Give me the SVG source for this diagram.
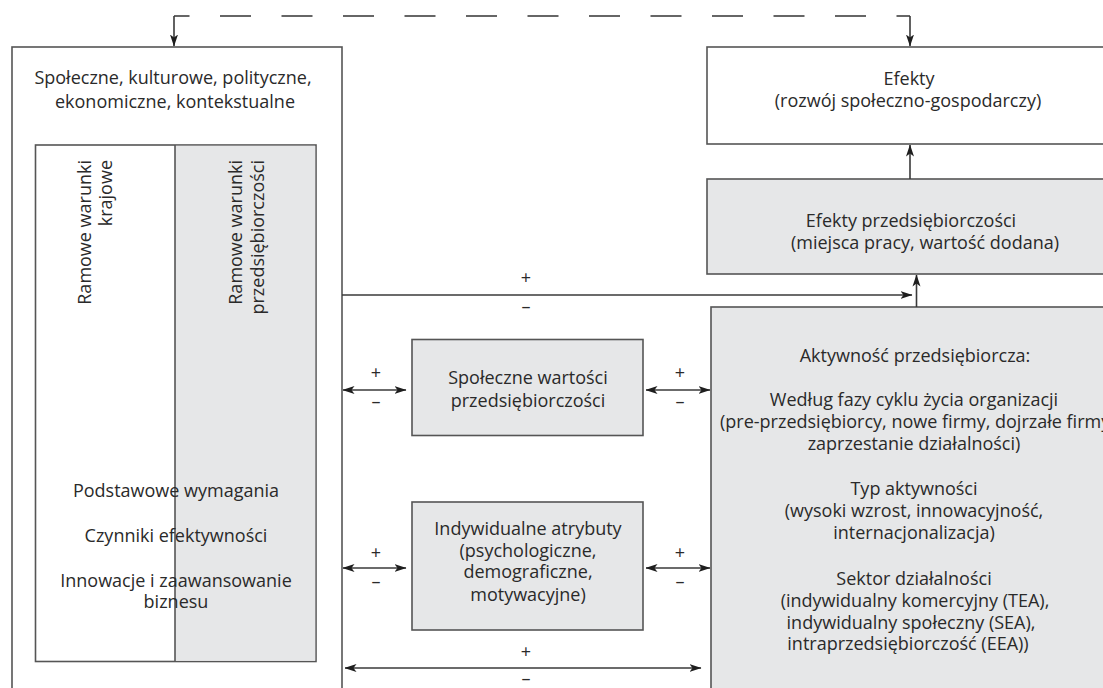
<svg xmlns="http://www.w3.org/2000/svg" width="1103" height="688" viewBox="0 0 1103 688">
<defs>
<marker id="ah" viewBox="0 0 12 8" refX="11.5" refY="4" markerWidth="12" markerHeight="8.5" markerUnits="userSpaceOnUse" orient="auto-start-reverse">
<path d="M0,0 L12,4 L0,8 L3,4 Z" fill="#1e1e1e"/>
</marker>
<style>
.box{stroke:#555;stroke-width:1.6}
.w{fill:#fff}
.g{fill:#e6e7e8}
text{font-family:"Open Sans","Noto Sans","Liberation Sans",sans-serif;font-size:18px;fill:#2a2a2a;text-anchor:middle}
.ln{fill:none;stroke:#3a3a3a;stroke-width:1.6}
.ds{fill:none;stroke:#666;stroke-width:1.8;stroke-dasharray:31 30.5;stroke-dashoffset:15.5}
</style>
</defs>
<rect width="1103" height="688" fill="#fff"/>

<g id="kontekst">
<rect class="box w" x="12" y="47" width="330" height="700"/>
<text x="173" y="84">Społeczne, kulturowe, polityczne,</text>
<text x="175" y="108">ekonomiczne, kontekstualne</text>
</g>

<g id="ramowe">
<rect class="box w" x="35.5" y="145" width="280.5" height="516.5"/>
<rect class="g" x="175" y="145.8" width="140.2" height="515"/>
<line class="box" x1="175" y1="145" x2="175" y2="661.5"/>
<text transform="translate(91,160) rotate(-90)" style="text-anchor:end">Ramowe warunki</text>
<text transform="translate(112,160) rotate(-90)" style="text-anchor:end">krajowe</text>
<text transform="translate(242,160) rotate(-90)" style="text-anchor:end">Ramowe warunki</text>
<text transform="translate(264,160) rotate(-90)" style="text-anchor:end">przedsiębiorczości</text>
<text x="176" y="497">Podstawowe wymagania</text>
<text x="176" y="541.5">Czynniki efektywności</text>
<text x="176" y="586.5">Innowacje i zaawansowanie</text>
<text x="176" y="608">biznesu</text>
</g>

<g id="efekty">
<rect class="box w" x="707" y="47" width="400" height="97"/>
<text x="909" y="85">Efekty</text>
<text x="908" y="107">(rozwój społeczno-gospodarczy)</text>
</g>

<g id="efekty-przedsiebiorczosci">
<rect class="box g" x="707" y="179" width="400" height="95"/>
<text x="911" y="227">Efekty przedsiębiorczości</text>
<text x="925" y="248.5">(miejsca pracy, wartość dodana)</text>
</g>

<g id="aktywnosc">
<rect class="box g" x="711" y="307" width="400" height="400"/>
<text x="915" y="362">Aktywność przedsiębiorcza:</text>
<text x="914" y="406">Według fazy cyklu życia organizacji</text>
<text x="720" y="428" style="text-anchor:start">(pre-przedsiębiorcy, nowe firmy, dojrzałe firmy,</text>
<text x="914" y="450">zaprzestanie działalności)</text>
<text x="914" y="495">Typ aktywności</text>
<text x="914" y="517">(wysoki wzrost, innowacyjność,</text>
<text x="914" y="539">internacjonalizacja)</text>
<text x="914" y="585">Sektor działalności</text>
<text x="915" y="607">(indywidualny komercyjny (TEA),</text>
<text x="911" y="628.5">indywidualny społeczny (SEA),</text>
<text x="908" y="650">intraprzedsiębiorczość (EEA))</text>
</g>

<g id="spoleczne-wartosci">
<rect class="box g" x="412" y="339.5" width="231" height="96"/>
<text x="528" y="384">Społeczne wartości</text>
<text x="528" y="406.5">przedsiębiorczości</text>
</g>

<g id="indywidualne-atrybuty">
<rect class="box g" x="412" y="502" width="231" height="128"/>
<text x="528" y="535">Indywidualne atrybuty</text>
<text x="528" y="556.5">(psychologiczne,</text>
<text x="528" y="578">demograficzne,</text>
<text x="528" y="600.5">motywacyjne)</text>
</g>

<g id="connectors">
<path class="ds" d="M174,16 H910"/>
<path class="ln" d="M174,16 V46" marker-end="url(#ah)"/>
<path class="ln" d="M910,16 V46" marker-end="url(#ah)"/>
<path class="ln" d="M910,179 V145" marker-end="url(#ah)"/>
<path class="ln" d="M342,295 H912" marker-end="url(#ah)"/>
<path class="ln" d="M916.5,307 V275" marker-end="url(#ah)"/>
<path class="ln" d="M343,390 H406" marker-start="url(#ah)" marker-end="url(#ah)"/>
<path class="ln" d="M646,390 H710" marker-start="url(#ah)" marker-end="url(#ah)"/>
<path class="ln" d="M343,568 H406" marker-start="url(#ah)" marker-end="url(#ah)"/>
<path class="ln" d="M646,568 H710" marker-start="url(#ah)" marker-end="url(#ah)"/>
<path class="ln" d="M345,668 H701" marker-start="url(#ah)" marker-end="url(#ah)"/>
<text x="526" y="283.5">+</text>
<text x="526" y="313">–</text>
<text x="376" y="378.5">+</text>
<text x="376" y="408">–</text>
<text x="680" y="378.5">+</text>
<text x="680" y="408">–</text>
<text x="376" y="558.5">+</text>
<text x="376" y="588">–</text>
<text x="680" y="558.5">+</text>
<text x="680" y="588">–</text>
<text x="526" y="657.5">+</text>
<text x="526" y="685">–</text>
</g>
</svg>
